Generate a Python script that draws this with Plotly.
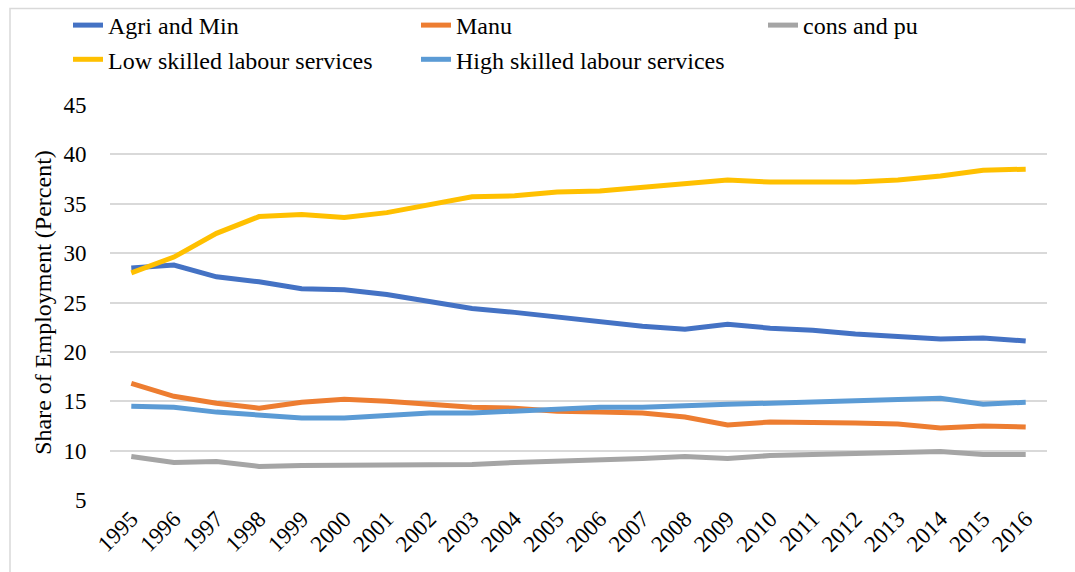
import plotly.graph_objects as go

years = [str(y) for y in range(1995, 2017)]

agri_min = [28.5, 28.8, 27.6, 27.1, 26.4, 26.3, 25.8, 25.1, 24.4, 24.0, 23.5,
            23.1, 22.6, 22.3, 22.8, 22.4, 22.2, 21.8, 21.6, 21.3, 21.4, 21.1]
manu = [16.8, 15.5, 14.8, 14.3, 14.9, 15.2, 15.0, 14.7, 14.4, 14.3, 14.0,
        13.9, 13.8, 13.4, 12.6, 12.9, 12.9, 12.8, 12.7, 12.3, 12.5, 12.4]
cons_pu = [9.4, 8.8, 8.9, 8.4, 8.5, 8.5, 8.6, 8.5, 8.6, 8.8, 8.9,
           9.0, 9.2, 9.4, 9.2, 9.5, 9.6, 9.7, 9.8, 9.9, 9.6, 9.6]
low_skilled = [28.0, 29.6, 32.0, 33.7, 33.9, 33.6, 34.1, 34.9, 35.7, 35.8, 36.2,
               36.3, 36.7, 37.0, 37.4, 37.2, 37.2, 37.2, 37.4, 37.8, 38.4, 38.5]
high_skilled = [14.5, 14.4, 13.9, 13.6, 13.3, 13.3, 13.5, 13.8, 13.8, 14.0, 14.2,
                14.4, 14.4, 14.6, 14.7, 14.8, 14.9, 15.1, 15.2, 15.3, 14.7, 14.9]

# (name, values, colour, legend column)
series = [
    ("Agri and Min", agri_min, "#4472C4", "legend"),
    ("Manu", manu, "#ED7D31", "legend2"),
    ("cons and pu", cons_pu, "#A5A5A5", "legend3"),
    ("Low skilled labour services", low_skilled, "#FFC000", "legend"),
    ("High skilled labour services", high_skilled, "#5B9BD5", "legend2"),
]

font_family = "Liberation Serif"
W, H = 1075, 572
ML, MR, MT, MB = 110, 28, 105, 72
PW, PH = W - ML - MR, H - MT - MB

fig = go.Figure()
for name, vals, color, leg in series:
    fig.add_trace(go.Scatter(
        x=years, y=vals, name=name, mode="lines",
        line=dict(color=color, width=5), legend=leg,
    ))

legend_font = dict(family=font_family, size=24, color="black")


def legend_box(x_px):
    return dict(
        orientation="v",
        x=(x_px - ML) / PW, y=1 + (MT - 3) / PH,
        xanchor="left", yanchor="top",
        font=legend_font, bgcolor="rgba(0,0,0,0)",
        traceorder="normal",
    )


fig.update_layout(
    width=W, height=H,
    margin=dict(l=ML, r=MR, t=MT, b=MB, autoexpand=False),
    paper_bgcolor="white", plot_bgcolor="white",
    font=dict(family=font_family, size=22, color="black"),
    legend=legend_box(68),
    legend2=legend_box(416),
    legend3=legend_box(763),
    showlegend=True,
)

fig.update_xaxes(
    type="category", tickangle=-45, showgrid=False, showline=False,
    ticks="", tickfont=dict(family=font_family, size=23, color="black"),
    range=[-0.5, len(years) - 0.5],
)
fig.update_yaxes(
    range=[5, 45], dtick=5, tick0=5, showgrid=True, gridcolor="#D9D9D9",
    gridwidth=1.5, zeroline=False, showline=False,
    ticks="outside", ticklen=18, tickcolor="rgba(0,0,0,0)",
    tickfont=dict(family=font_family, size=23, color="black"),
    title=dict(text="Share of Employment (Percent)",
               font=dict(family=font_family, size=24, color="black"),
               standoff=5),
)

# outer chart frame
fig.add_shape(
    type="rect", xref="paper", yref="paper",
    x0=(10 - ML) / PW, x1=1.2,
    y0=-0.5, y1=1 + (MT - 8.5) / PH,
    line=dict(color="#D9D9D9", width=1.5), fillcolor="rgba(0,0,0,0)",
    layer="below",
)

fig.write_html("out.html")
